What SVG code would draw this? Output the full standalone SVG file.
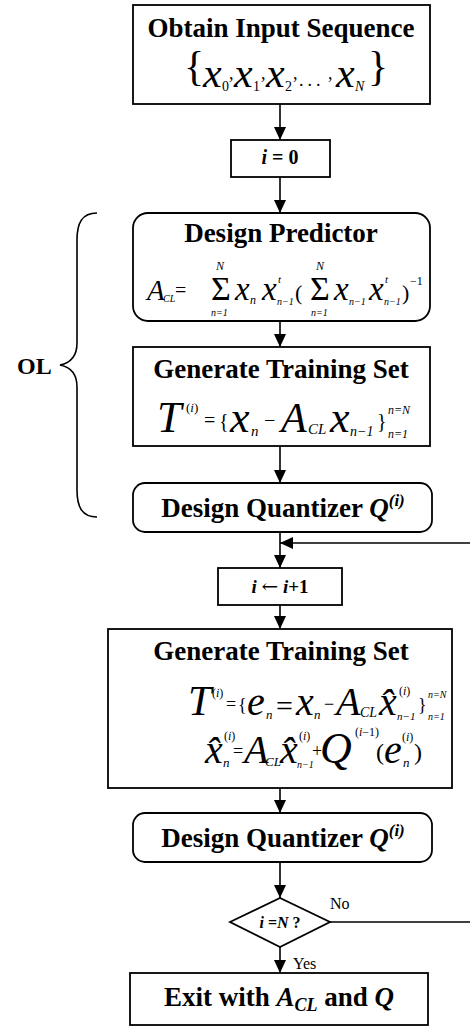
<svg xmlns="http://www.w3.org/2000/svg" width="470" height="1034" viewBox="0 0 470 1034">
<style>
.b{stroke:#000;stroke-width:1.8;fill:#fff}
.c{stroke:#000;stroke-width:1.6;fill:none}
text{font-family:"Liberation Serif","Times New Roman",serif;fill:#000}
.t{font-size:27px;font-weight:bold}
.i{font-style:italic}
.bi{font-style:italic;font-weight:bold}
.lbl{font-size:16px}
.sg{font-size:34px}
</style>
<defs>
<marker id="ah" markerUnits="userSpaceOnUse" markerWidth="14" markerHeight="14" refX="13" refY="6" orient="auto"><path d="M0,0 L13,6 L0,12 z" fill="#000"/></marker>
</defs>
<rect width="470" height="1034" fill="#fff"/>

<g id="connectors">
<line class="c" x1="280" y1="104" x2="280" y2="140" marker-end="url(#ah)"/>
<line class="c" x1="280" y1="177" x2="280" y2="213" marker-end="url(#ah)"/>
<line class="c" x1="280" y1="321" x2="280" y2="347" marker-end="url(#ah)"/>
<line class="c" x1="280" y1="446" x2="280" y2="483" marker-end="url(#ah)"/>
<line class="c" x1="280" y1="532" x2="280" y2="568" marker-end="url(#ah)"/>
<line class="c" x1="470" y1="543" x2="280" y2="543" marker-end="url(#ah)"/>
<line class="c" x1="280" y1="605" x2="280" y2="629" marker-end="url(#ah)"/>
<line class="c" x1="280" y1="788" x2="280" y2="813" marker-end="url(#ah)"/>
<line class="c" x1="280" y1="862" x2="280" y2="898" marker-end="url(#ah)"/>
<line class="c" x1="280" y1="947" x2="280" y2="973" marker-end="url(#ah)"/>
<line class="c" x1="330" y1="922" x2="470" y2="922"/>
<text class="lbl" x="330" y="909">No</text>
<text class="lbl" x="293" y="969">Yes</text>
</g>

<g id="ol-brace">
<path class="c" d="M97,213 C82,213 77,223 77,240 L77,343 C77,356 70,363 60,365 C70,367 77,374 77,387 L77,490 C77,507 82,517 97,517"/>
<text class="t" x="17" y="374" style="font-size:24px">OL</text>
</g>

<g id="obtain">
<rect class="b" x="133" y="5" width="297" height="99"/>
<text class="t" x="281" y="37" text-anchor="middle">Obtain Input Sequence</text>
<text x="184" y="80" style="font-size:42px">{</text>
<text class="i" x="203" y="87" style="font-size:42px">x</text>
<text x="222" y="91" style="font-size:14px">0</text>
<text x="229" y="79" style="font-size:18px">,</text>
<text class="i" x="234" y="87" style="font-size:42px">x</text>
<text x="253" y="91" style="font-size:14px">1</text>
<text x="261" y="79" style="font-size:18px">,</text>
<text class="i" x="266" y="87" style="font-size:42px">x</text>
<text x="285" y="91" style="font-size:14px">2</text>
<text x="293" y="79" style="font-size:18px">,</text>
<text x="299" y="86" style="font-size:18px" letter-spacing="4">...</text>
<text x="328" y="79" style="font-size:18px">,</text>
<text class="i" x="336" y="87" style="font-size:42px">x</text>
<text class="i" x="355" y="91" style="font-size:14px">N</text>
<text x="368" y="80" style="font-size:42px">}</text>
</g>

<g id="init">
<rect class="b" x="231" y="140" width="99" height="37"/>
<text x="280" y="164" text-anchor="middle" style="font-size:20px;font-weight:bold"><tspan class="bi">i</tspan> = 0</text>
</g>

<g id="design-predictor">
<rect class="b" x="133" y="213" width="297" height="108" rx="15"/>
<text class="t" x="281" y="242" text-anchor="middle">Design Predictor</text>
<text class="i" x="147" y="300" style="font-size:29px">A</text>
<text class="i" x="163" y="302" style="font-size:10px">CL</text>
<text x="175" y="297" style="font-size:20px">=</text>
<text class="sg" x="211" y="300">Σ</text>
<text class="i" x="216" y="270" style="font-size:12px">N</text>
<text class="i" x="211" y="316" style="font-size:10px">n=1</text>
<text class="i" x="235" y="300" style="font-size:33px">x</text>
<text class="i" x="250" y="304" style="font-size:12px">n</text>
<text class="i" x="262" y="300" style="font-size:33px">x</text>
<text class="i" x="278" y="283" style="font-size:11px">t</text>
<text class="i" x="277" y="305" style="font-size:10px">n−1</text>
<text x="295" y="300" style="font-size:22px">(</text>
<text class="sg" x="310" y="300">Σ</text>
<text class="i" x="316" y="270" style="font-size:12px">N</text>
<text class="i" x="311" y="316" style="font-size:10px">n=1</text>
<text class="i" x="334" y="300" style="font-size:33px">x</text>
<text class="i" x="349" y="305" style="font-size:10px">n−1</text>
<text class="i" x="369" y="300" style="font-size:33px">x</text>
<text class="i" x="385" y="283" style="font-size:11px">t</text>
<text class="i" x="384" y="305" style="font-size:10px">n−1</text>
<text x="402" y="300" style="font-size:22px">)</text>
<text x="410" y="285" style="font-size:12px">−1</text>
</g>

<g id="gen-training-1">
<rect class="b" x="133" y="347" width="297" height="99"/>
<text class="t" x="281" y="378" text-anchor="middle">Generate Training Set</text>
<text class="i" x="157" y="432" style="font-size:44px">T</text>
<text x="186" y="412" style="font-size:13px">(<tspan class="i">i</tspan>)</text>
<text x="204" y="427" style="font-size:20px">=</text>
<text x="219" y="428" style="font-size:20px">{</text>
<text class="i" x="230" y="432" style="font-size:44px">x</text>
<text class="i" x="251" y="436" style="font-size:15px">n</text>
<text x="264" y="427" style="font-size:20px">−</text>
<text class="i" x="281" y="432" style="font-size:42px">A</text>
<text class="i" x="308" y="434" style="font-size:15px">CL</text>
<text class="i" x="330" y="432" style="font-size:44px">x</text>
<text class="i" x="350" y="436" style="font-size:14px">n−1</text>
<text x="377" y="428" style="font-size:20px">}</text>
<text class="i" x="388" y="414" style="font-size:12px">n=N</text>
<text class="i" x="388" y="438" style="font-size:12px">n=1</text>
</g>

<g id="design-quantizer-1">
<rect class="b" x="133" y="483" width="299" height="49" rx="12"/>
<text class="t" x="283" y="517" text-anchor="middle">Design Quantizer <tspan class="bi">Q</tspan><tspan class="bi" dy="-11" style="font-size:17px">(i)</tspan></text>
</g>

<g id="increment">
<rect class="b" x="218" y="568" width="124" height="37"/>
<text x="280" y="593" text-anchor="middle" style="font-size:19px;font-weight:bold"><tspan class="bi">i</tspan> <tspan style="font-weight:normal;font-family:'DejaVu Serif',serif;font-size:20px">←</tspan> <tspan class="bi">i</tspan>+1</text>
</g>

<g id="gen-training-2">
<rect class="b" x="108" y="629" width="344" height="159"/>
<text class="t" x="281" y="660" text-anchor="middle">Generate Training Set</text>
<text class="i" x="188" y="715" style="font-size:42px">T</text>
<text x="212" y="697" style="font-size:12px">(<tspan class="i">i</tspan>)</text>
<text x="226" y="710" style="font-size:18px">=</text>
<text x="238" y="711" style="font-size:18px">{</text>
<text class="i" x="247" y="715" style="font-size:40px">e</text>
<text class="i" x="266" y="719" style="font-size:13px">n</text>
<text x="276" y="716" style="font-size:30px">=</text>
<text class="i" x="296" y="715" style="font-size:40px">x</text>
<text class="i" x="314" y="719" style="font-size:13px">n</text>
<text x="324" y="710" style="font-size:18px">−</text>
<text class="i" x="336" y="715" style="font-size:40px">A</text>
<text class="i" x="360" y="717" style="font-size:14px">CL</text>
<text class="i" x="379" y="715" style="font-size:40px">x̂</text>
<text x="399" y="695" style="font-size:12px">(<tspan class="i">i</tspan>)</text>
<text class="i" x="397" y="720" style="font-size:11px">n−1</text>
<text x="418" y="711" style="font-size:18px">}</text>
<text class="i" x="428" y="698" style="font-size:10px">n=N</text>
<text class="i" x="428" y="720" style="font-size:10px">n=1</text>

<text class="i" x="205" y="763" style="font-size:40px">x̂</text>
<text x="224" y="740" style="font-size:12px">(<tspan class="i">i</tspan>)</text>
<text class="i" x="223" y="767" style="font-size:13px">n</text>
<text x="233" y="757" style="font-size:18px">=</text>
<text class="i" x="244" y="763" style="font-size:40px">A</text>
<text class="i" x="265" y="766" style="font-size:13px">CL</text>
<text class="i" x="280" y="763" style="font-size:40px">x̂</text>
<text x="299" y="740" style="font-size:12px">(<tspan class="i">i</tspan>)</text>
<text class="i" x="297" y="768" style="font-size:10px">n−1</text>
<text x="312" y="757" style="font-size:18px">+</text>
<text class="i" x="320" y="763" style="font-size:44px">Q</text>
<text x="355" y="736" style="font-size:12px">(<tspan class="i">i</tspan>−1)</text>
<text x="376" y="760" style="font-size:24px">(</text>
<text class="i" x="384" y="763" style="font-size:40px">e</text>
<text x="402" y="741" style="font-size:12px">(<tspan class="i">i</tspan>)</text>
<text class="i" x="403" y="767" style="font-size:13px">n</text>
<text x="414" y="760" style="font-size:24px">)</text>
</g>

<g id="design-quantizer-2">
<rect class="b" x="133" y="813" width="299" height="49" rx="12"/>
<text class="t" x="283" y="847" text-anchor="middle">Design Quantizer <tspan class="bi">Q</tspan><tspan class="bi" dy="-11" style="font-size:17px">(i)</tspan></text>
</g>

<g id="decision">
<polygon class="b" points="230,922 280,898 330,922 280,947"/>
<text x="280" y="928" text-anchor="middle" style="font-size:16px;font-weight:bold"><tspan class="bi">i</tspan> =<tspan class="bi">N</tspan> ?</text>
</g>

<g id="exit">
<rect class="b" x="130" y="973" width="298" height="52"/>
<text class="t" x="279" y="1006" text-anchor="middle">Exit with <tspan class="bi">A</tspan><tspan class="bi" dy="5" style="font-size:18px">CL</tspan><tspan dy="-5"> and </tspan><tspan class="bi">Q</tspan></text>
</g>
</svg>
